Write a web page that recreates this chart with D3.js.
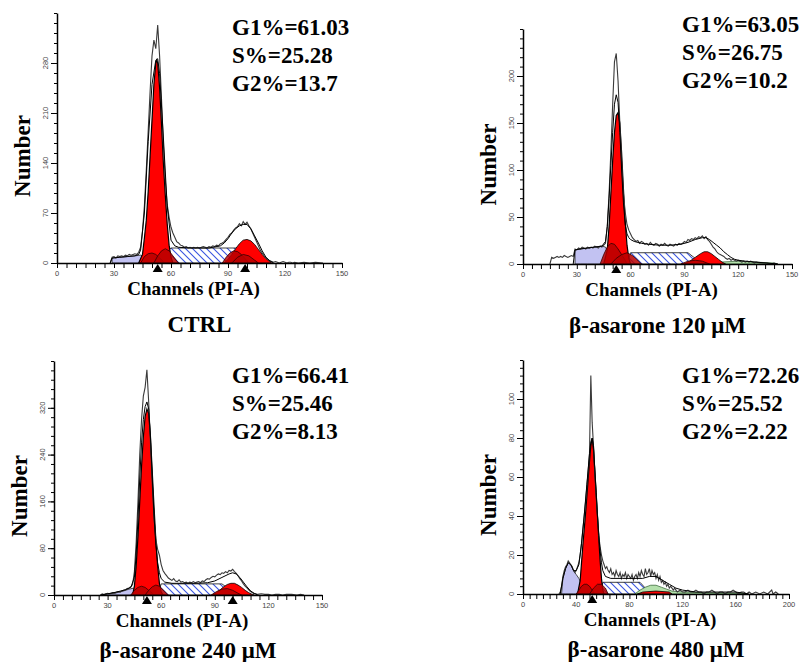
<!DOCTYPE html>
<html>
<head>
<meta charset="utf-8">
<script src="https://cdn.jsdelivr.net/npm/d3@7"></script>
<style>
  body { margin: 0; background: #fff; }
  svg { display: block; }
</style>
</head>
<body>
<div id="chart"></div>
<script>
// panel titles and ModFit results
const panelNames = ["CTRL", "β-asarone 120 μM", "β-asarone 240 μM", "β-asarone 480 μM"];
const g1Pct = ["61.03", "63.05", "66.41", "72.26"];
const sPct  = ["25.28", "26.75", "25.46", "25.52"];
const g2Pct = ["13.7", "10.2", "8.13", "2.22"];

// axis ranges
const xMax  = [150, 150, 150, 200];
const xStep = [30, 30, 30, 40];
const yMax  = [350, 250, 400, 120];
const yStep = [70, 50, 80, 20];

// peak markers (channel of G1 / G2 mean)
const g1Mean = [53, 52, 52, 52];
const g2Mean = [99, null, 100, null];

// ---- CTRL ----  [channel, count]
const ctrlRaw = [[28,0],[29,8],[30,9],[31,7],[32,10],[33,9],[34,10],[35,9],[36,11],[37,10],[38,12],[39,11],[40,12],[41,13],[42,12],[43,15],[44,22],[45,45],[46,80],[47,130],[48,185],[49,240],[50,290],[51,312],[52,300],[53,333],[54,290],[55,230],[56,165],[57,115],[58,82],[59,64],[60,50],[61,42],[62,36],[63,30],[64,28],[65,25],[66,24],[67,22],[68,23],[69,21],[70,22],[71,21],[72,22],[73,21],[74,22],[75,21],[76,22],[77,23],[78,22],[79,21],[80,23],[81,22],[82,24],[83,23],[84,25],[85,24],[86,27],[87,28],[88,30],[89,33],[90,36],[91,40],[92,42],[93,46],[94,49],[95,51],[96,55],[97,52],[98,58],[99,54],[100,57],[101,52],[102,48],[103,42],[104,36],[105,30],[106,24],[107,18],[108,14],[109,10],[110,7],[111,5],[112,3],[113,2],[114,1],[115,2],[116,1],[117,0],[118,1],[119,2],[120,1],[121,0],[122,1],[123,1],[124,0],[125,1],[127,0],[130,1],[133,0],[136,1],[140,0]];
const ctrlFit = [[28,0],[29,7],[33,8],[37,9],[41,10],[43,12],[44,18],[46,70],[48,170],[50,250],[52,284],[53,286],[54,265],[56,175],[58,80],[60,32],[62,24],[64,22],[70,21],[80,21],[86,24],[88,28],[90,34],[92,42],[94,48],[96,52],[98,54],[100,54],[102,48],[104,38],[106,28],[108,17],[110,8],[112,3],[114,0]];
const ctrlDebris = [[29,0],[29,7],[33,8],[37,9],[41,10],[44,11],[47,8],[50,4],[54,0]];
const ctrlS = [[56,0],[58,17],[60,21],[95,21],[99,12],[102,0]];
const ctrlG1 = [[43,0],[45,12],[46,35],[47,60],[48,100],[49,150],[50,200],[51,250],[52,280],[52.5,284],[53,280],[54,245],[55,195],[56,140],[57,95],[58,55],[59,25],[60,8],[61,0]];
const ctrlG2 = [[88,0],[90,5],[92,12],[94,20],[96,27],[98,32],[100,33],[102,31],[104,26],[106,19],[108,12],[110,6],[112,2],[113,0]];
const ctrlAgg = [
  [[44,0],[46,9],[48,13],[50,14],[52,12],[54,7],[56,2],[57,0]],
  [[51,0],[53,10],[55,17],[57,20],[59,17],[61,10],[63,3],[64,0]],
  [[87,0],[89,8],[91,14],[93,17],[95,16],[97,12],[99,6],[101,0]],
  [[92,0],[95,8],[98,12],[101,10],[104,4],[106,0]]
];
const ctrlGreen = [];

// ---- 120 uM ----
const c120Raw = [[15,0],[16,7],[17,6],[18,7],[19,8],[20,7],[21,8],[22,7],[23,9],[24,8],[25,7],[26,8],[27,9],[28,8],[29,16],[30,15],[31,17],[32,16],[33,18],[34,17],[35,16],[36,18],[37,17],[38,18],[39,17],[40,19],[41,18],[42,17],[43,19],[44,18],[45,20],[46,22],[47,40],[48,75],[49,120],[50,170],[51,215],[52,224],[53,195],[54,150],[55,110],[56,75],[57,55],[58,42],[59,36],[60,32],[61,28],[62,26],[63,24],[64,25],[65,22],[66,24],[67,23],[68,21],[69,22],[70,20],[71,23],[72,21],[73,20],[74,22],[75,21],[76,19],[77,21],[78,20],[79,22],[80,20],[81,19],[82,21],[83,20],[84,19],[85,21],[86,20],[87,22],[88,21],[89,22],[90,24],[91,23],[92,26],[93,25],[94,27],[95,26],[96,28],[97,27],[98,29],[99,28],[100,30],[101,27],[102,29],[103,26],[104,24],[105,21],[106,18],[107,16],[108,13],[109,11],[110,10],[111,9],[112,8],[113,6],[114,5],[115,6],[116,4],[117,5],[118,4],[119,3],[120,4],[121,3],[122,2],[123,3],[124,2],[125,3],[126,2],[127,3],[128,2],[129,1],[130,2],[132,1],[134,1],[136,1],[138,0],[140,1],[142,0]];
const c120Fit = [[28,0],[29,15],[32,16],[36,17],[40,18],[44,19],[46,24],[47,40],[48,70],[49,105],[50,140],[51,170],[52,180],[53,172],[54,140],[55,100],[56,65],[57,42],[58,32],[59,28],[60,26],[62,24],[66,22],[70,21],[76,20],[82,20],[88,21],[92,23],[96,26],[100,28],[102,28],[104,26],[106,23],[108,20],[110,17],[112,13],[114,10],[116,7],[118,5],[120,4],[124,3],[130,2],[136,1],[142,0]];
const c120Debris = [[29,0],[29,15],[32,16],[36,17],[40,18],[44,19],[46,18],[48,10],[50,3],[52,0]];
const c120S = [[58,0],[60,12],[92,12],[96,6],[100,0]];
const c120G1 = [[45,0],[47,15],[48,40],[49,75],[50,110],[51,140],[52,158],[53,161],[54,150],[55,118],[56,80],[57,45],[58,20],[59,6],[60,0]];
const c120G2 = [[90,0],[93,3],[96,7],[99,11],[101,13],[103,13],[105,11],[107,8],[109,5],[111,2],[113,0]];
const c120Agg = [
  [[43,0],[45,10],[47,18],[49,22],[51,21],[53,16],[55,10],[57,4],[58,0]],
  [[49,0],[52,6],[55,10],[58,12],[61,9],[64,4],[66,0]],
  [[88,0],[92,3],[96,4],[100,3],[104,0]]
];
const c120Green = [[104,0],[110,2],[120,3],[130,2],[140,1],[142,0]];

// ---- 240 uM ----
const c240Raw = [[26,0],[27,2],[28,1],[29,2],[30,3],[31,2],[32,3],[33,4],[34,3],[35,5],[36,6],[37,5],[38,7],[39,8],[40,9],[41,11],[42,12],[43,14],[44,18],[45,40],[46,90],[47,160],[48,240],[49,300],[50,340],[51,355],[52,385],[53,330],[54,260],[55,190],[56,130],[57,95],[58,78],[59,68],[60,52],[61,42],[62,37],[63,33],[64,29],[65,27],[66,25],[67,28],[68,24],[69,23],[70,26],[71,22],[72,23],[73,21],[74,22],[75,20],[76,22],[77,21],[78,23],[79,21],[80,22],[81,23],[82,21],[83,24],[84,23],[85,26],[86,28],[87,27],[88,30],[89,32],[90,31],[91,34],[92,36],[93,35],[94,38],[95,37],[96,40],[97,38],[98,42],[99,41],[100,44],[101,40],[102,37],[103,33],[104,28],[105,24],[106,19],[107,15],[108,12],[109,9],[110,6],[111,4],[112,2],[113,2],[114,1],[116,2],[118,1],[120,1],[122,0],[124,1],[126,1],[128,0],[130,1],[133,1],[136,0],[138,1],[140,0]];
const c240Fit = [[26,0],[30,2],[35,5],[40,9],[43,13],[45,30],[46,70],[47,130],[48,200],[49,260],[50,300],[51,322],[52,330],[53,318],[54,270],[55,200],[56,135],[57,85],[58,55],[59,38],[60,28],[62,22],[66,20],[80,20],[86,21],[90,24],[94,30],[98,36],[100,38],[102,36],[104,30],[106,22],[108,14],[110,7],[112,3],[114,0]];
const c240Debris = [[27,0],[30,2],[34,3],[38,6],[42,10],[45,12],[48,8],[50,3],[52,0]];
const c240S = [[58,0],[60,19],[94,19],[98,10],[102,0]];
const c240G1 = [[44,0],[45,15],[46,50],[47,100],[48,160],[49,220],[50,270],[51,305],[52,318],[53,310],[54,270],[55,210],[56,150],[57,95],[58,50],[59,20],[60,5],[61,0]];
const c240G2 = [[89,0],[91,4],[93,9],[95,14],[97,18],[99,20],[101,20],[103,17],[105,13],[107,8],[109,4],[111,1],[112,0]];
const c240Agg = [
  [[43,0],[45,8],[47,13],[49,15],[51,13],[53,8],[55,3],[56,0]],
  [[51,0],[53,8],[55,14],[57,17],[59,15],[61,9],[63,3],[64,0]],
  [[88,0],[91,6],[94,10],[97,11],[100,8],[103,3],[105,0]]
];
const c240Green = [];

// ---- 480 uM ----
const c480Raw = [[27,0],[28,1],[29,4],[30,9],[31,12],[32,14],[33,15],[34,17],[35,16],[36,15],[37,14],[38,12],[39,11],[40,12],[41,14],[42,16],[43,20],[44,26],[45,33],[46,40],[47,47],[48,55],[49,63],[50,72],[51,112],[52,88],[53,76],[54,62],[55,50],[56,40],[57,30],[58,24],[59,20],[60,17],[61,15],[62,13],[63,14],[64,12],[65,11],[66,13],[67,10],[68,11],[69,9],[70,12],[71,10],[72,9],[73,11],[74,8],[75,10],[76,9],[77,11],[78,8],[79,10],[80,9],[81,8],[82,10],[83,7],[84,9],[85,10],[86,8],[87,11],[88,9],[89,12],[90,10],[91,9],[92,13],[93,10],[94,11],[95,13],[96,9],[97,12],[98,10],[99,11],[100,8],[101,10],[102,7],[103,9],[104,6],[105,7],[106,5],[107,6],[108,4],[109,5],[110,3],[111,4],[112,3],[113,2],[114,3],[115,2],[116,1],[118,2],[120,1],[122,1],[124,2],[126,1],[128,1],[130,2],[132,1],[134,1],[136,0],[138,1],[140,1],[142,2],[144,1],[146,0],[148,1],[150,1],[152,0],[154,1],[156,1],[158,2],[160,1],[162,0],[164,1],[166,1],[168,0],[170,1],[172,0],[175,1],[178,0],[181,1],[184,0],[187,2],[188,0],[190,1],[192,0]];
const c480Fit = [[28,0],[30,8],[32,13],[34,16],[36,15],[38,12],[40,12],[42,15],[44,26],[46,40],[48,56],[50,72],[51,78],[52,80],[53,76],[54,64],[55,52],[56,40],[57,30],[58,22],[59,16],[60,12],[62,9],[66,8],[75,8],[85,8],[90,8],[95,9],[100,9],[105,7],[110,5],[115,3],[120,2],[130,1],[140,1],[160,1],[170,0]];
const c480Debris = [[29,0],[30,8],[32,13],[34,16],[36,15],[38,12],[40,10],[42,8],[44,5],[46,0]];
const c480S = [[58,0],[60,6],[88,6],[92,3],[96,0]];
const c480G1 = [[41,0],[43,7],[44,16],[45,25],[46,33],[47,41],[48,50],[49,59],[50,68],[51,76],[52,80],[53,74],[54,63],[55,52],[56,40],[57,28],[58,17],[59,8],[60,2],[61,0]];
const c480G2 = [[86,0],[90,1],[100,1.5],[110,1],[112,0]];
const c480Agg = [
  [[40,0],[42,2],[44,4],[46,5],[48,5],[50,4],[52,2],[54,0]],
  [[50,0],[53,3],[56,5],[59,5],[62,3],[64,0]]
];
const c480Green = [[84,0],[88,2],[92,3.5],[96,4.5],[100,4.5],[104,3.5],[108,2.5],[112,1.5],[120,1],[140,0.6],[165,0.4],[167,0]];

// table for drawing
const panels = [
  {raw: ctrlRaw, fit: ctrlFit, debris: ctrlDebris, s: ctrlS, g1: ctrlG1, g2: ctrlG2, agg: ctrlAgg, green: ctrlGreen},
  {raw: c120Raw, fit: c120Fit, debris: c120Debris, s: c120S, g1: c120G1, g2: c120G2, agg: c120Agg, green: c120Green},
  {raw: c240Raw, fit: c240Fit, debris: c240Debris, s: c240S, g1: c240G1, g2: c240G2, agg: c240Agg, green: c240Green},
  {raw: c480Raw, fit: c480Fit, debris: c480Debris, s: c480S, g1: c480G1, g2: c480G2, agg: c480Agg, green: c480Green}
];

// plot boxes (left, right, bottom, top) in page pixels
const boxes = [
  {l: 57,  r: 342, b: 263, t: 13},
  {l: 523, r: 792, b: 264, t: 29},
  {l: 54,  r: 322, b: 595, t: 361},
  {l: 523, r: 789, b: 594, t: 360}
];
const statX = [232, 682, 232, 682];
const statY = [35, 32, 383, 383];

const serif = '"Liberation Serif", "Times New Roman", serif';

const svg = d3.select('#chart')
  .append('svg')
    .attr('width', 803)
    .attr('height', 662);

// blue diagonal hatch for S phase
const pat = svg.append('defs').append('pattern')
  .attr('id', 'hatch')
  .attr('patternUnits', 'userSpaceOnUse')
  .attr('width', 7)
  .attr('height', 7);
pat.append('rect').attr('width', 7).attr('height', 7).attr('fill', '#fff');
pat.append('path')
  .attr('d', 'M-1,-1 L8,8 M-1,6 L1,8 M6,-1 L8,1')
  .attr('stroke', '#3a55e0')
  .attr('stroke-width', 1.1);

panels.forEach((p, i) => {
  const bx = boxes[i];
  const x = d3.scaleLinear().domain([0, xMax[i]]).range([bx.l, bx.r]);
  const y = d3.scaleLinear().domain([0, yMax[i]]).range([bx.b, bx.t]);
  const g = svg.append('g');

  const area = d3.area().x(d => x(d[0])).y0(y(0)).y1(d => y(d[1]));
  const line = d3.line().x(d => x(d[0])).y(d => y(d[1]));

  // model components
  g.append('path').attr('d', area(p.s))
    .attr('fill', 'url(#hatch)').attr('stroke', '#111').attr('stroke-width', 0.8);
  if (p.green.length) {
    g.append('path').attr('d', area(p.green))
      .attr('fill', '#b4e0ac').attr('stroke', '#2a5a2a').attr('stroke-width', 0.7);
  }
  g.append('path').attr('d', area(p.debris))
    .attr('fill', '#c2c2f2').attr('stroke', '#222').attr('stroke-width', 0.8);
  g.append('path').attr('d', area(p.g1))
    .attr('fill', '#ff0000').attr('stroke', '#000').attr('stroke-width', 1.2);
  g.append('path').attr('d', area(p.g2))
    .attr('fill', '#ff0000').attr('stroke', '#000').attr('stroke-width', 0.8);
  p.agg.forEach(a => {
    g.append('path').attr('d', area(a))
      .attr('fill', '#b80000').attr('fill-opacity', 0.85)
      .attr('stroke', '#300').attr('stroke-width', 0.8);
  });

  // data + fit outlines
  g.append('path').attr('d', line(p.raw))
    .attr('fill', 'none').attr('stroke', '#3a3a3a').attr('stroke-width', 1.1);
  g.append('path').attr('d', line(p.fit))
    .attr('fill', 'none').attr('stroke', '#000').attr('stroke-width', 1);

  // axes
  const minorY = d3.range(0, yMax[i] + 0.001, yStep[i] / 5);
  const majorY = d3.range(0, yMax[i], yStep[i]);
  const yAxisG = g.append('g').attr('transform', 'translate(' + bx.l + ',0)')
    .call(d3.axisLeft(y).tickValues(minorY).tickSize(3).tickSizeOuter(0).tickFormat(''));
  g.append('g').attr('transform', 'translate(' + bx.l + ',0)')
    .call(d3.axisLeft(y).tickValues(majorY).tickSize(6).tickSizeOuter(0).tickFormat(''))
    .select('.domain').remove();
  yAxisG.select('.domain').attr('stroke-width', 1.5);

  g.selectAll('.ylab')
    .data(majorY)
    .enter()
    .append('text')
      .attr('transform', d => 'translate(' + (bx.l - 9) + ',' + y(d) + ') rotate(-90)')
      .attr('text-anchor', 'middle')
      .attr('font-family', '"Liberation Sans", Arial, sans-serif')
      .attr('font-size', 7.5)
      .attr('fill', '#444')
      .text(d => d);

  const minorX = d3.range(0, xMax[i] + 0.001, 5);
  const majorX = d3.range(0, xMax[i] + 0.001, xStep[i]);
  const xAxisG = g.append('g').attr('transform', 'translate(0,' + bx.b + ')')
    .call(d3.axisBottom(x).tickValues(minorX).tickSize(5).tickSizeOuter(0).tickFormat(''));
  xAxisG.select('.domain').attr('stroke-width', 1.5);
  g.selectAll('.xlab')
    .data(majorX)
    .enter()
    .append('text')
      .attr('x', d => x(d))
      .attr('y', bx.b + 13)
      .attr('text-anchor', 'middle')
      .attr('font-family', '"Liberation Sans", Arial, sans-serif')
      .attr('font-size', 7.5)
      .attr('fill', '#444')
      .text(d => d);

  // mean markers
  [g1Mean[i], g2Mean[i]].filter(m => m != null).forEach(m => {
    const cx = x(m);
    g.append('path')
      .attr('d', 'M' + cx + ',' + (bx.b + 1) + 'L' + (cx - 5) + ',' + (bx.b + 9) + 'L' + (cx + 5) + ',' + (bx.b + 9) + 'Z')
      .attr('fill', '#000');
  });

  // labels
  g.append('text')
    .attr('transform', 'translate(' + (bx.l - 27) + ',' + ((bx.t + bx.b) / 2 + 18) + ') rotate(-90)')
    .attr('text-anchor', 'middle')
    .attr('font-family', serif).attr('font-weight', 'bold').attr('font-size', 23)
    .text('Number');

  g.append('text')
    .attr('x', (bx.l + bx.r) / 2 - 6)
    .attr('y', bx.b + 32)
    .attr('text-anchor', 'middle')
    .attr('font-family', serif).attr('font-weight', 'bold').attr('font-size', 19)
    .text('Channels (PI-A)');

  g.append('text')
    .attr('x', (bx.l + bx.r) / 2)
    .attr('y', bx.b + (i < 2 ? 69 : 63))
    .attr('text-anchor', 'middle')
    .attr('font-family', serif).attr('font-weight', 'bold').attr('font-size', 23)
    .text(panelNames[i]);

  const stats = ['G1%=' + g1Pct[i], 'S%=' + sPct[i], 'G2%=' + g2Pct[i]];
  g.selectAll('.stat')
    .data(stats)
    .enter()
    .append('text')
      .attr('x', statX[i])
      .attr('y', (d, k) => statY[i] + k * 28)
      .attr('font-family', serif).attr('font-weight', 'bold').attr('font-size', 23)
      .text(d => d);
});
</script>
</body>
</html>
